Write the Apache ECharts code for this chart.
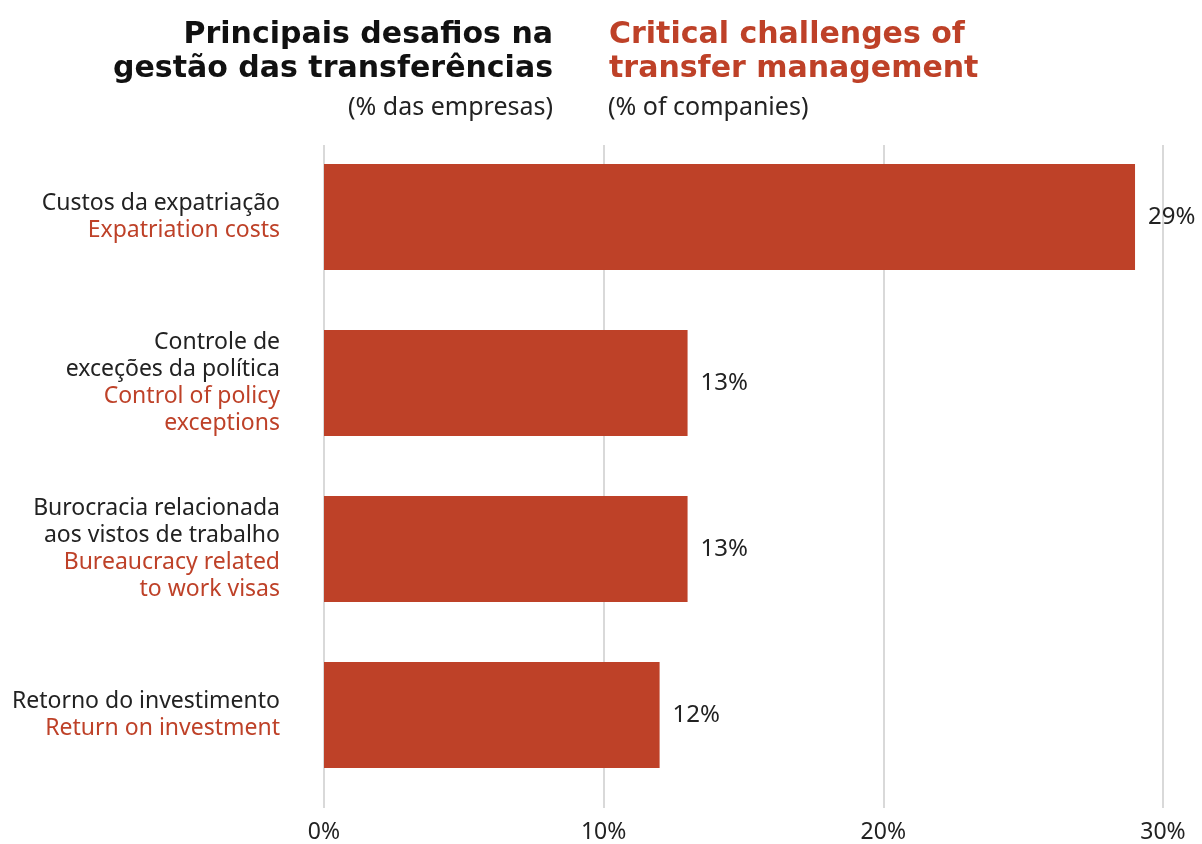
<!DOCTYPE html>
<html>
<head>
<meta charset="utf-8">
<script src="https://cdn.jsdelivr.net/npm/echarts@6/dist/echarts.min.js"></script>
<style>
  html, body { margin: 0; padding: 0; background: #fff; }
  #chart { width: 1202px; height: 844px; }
</style>
</head>
<body>
<div id="chart"></div>
<script>
// 类别（葡语 / 英语）
const categoriesPt = [
  "Custos da expatriação",
  "Controle de\nexceções da política",
  "Burocracia relacionada\naos vistos de trabalho",
  "Retorno do investimento"
];
const categoriesEn = [
  "Expatriation costs",
  "Control of policy\nexceptions",
  "Bureaucracy related\nto work visas",
  "Return on investment"
];
const values = [29, 13, 13, 12];
const tickLabels = ["0%", "10%", "20%", "30%"];

const red = "#BE4128";
const dark = "#222222";
const font = "Noto Sans";

var chart = echarts.init(document.getElementById("chart"));

// 每个类别的标签：黑色葡语 + 红色英语
const catLabels = categoriesPt.map(function (pt, i) {
  const ptLines = pt.split("\n").map(function (l) { return "{pt|" + l + "}"; });
  const enLines = categoriesEn[i].split("\n").map(function (l) { return "{en|" + l + "}"; });
  return ptLines.concat(enLines).join("\n");
});

const option = {
  backgroundColor: "#fff",
  animation: false,
  title: [
    {
      text: "Principais desafios na\ngestão das transferências",
      left: 548,
      top: 13,
      textAlign: "right",
      textStyle: {
        color: "#111",
        fontSize: 30,
        fontWeight: "bold",
        fontFamily: "DejaVu Sans",
        lineHeight: 34
      }
    },
    {
      text: "Critical challenges of\ntransfer management",
      left: 604,
      top: 13,
      textStyle: {
        color: red,
        fontSize: 30,
        fontWeight: "bold",
        fontFamily: "DejaVu Sans",
        lineHeight: 34
      }
    },
    {
      text: "(% das empresas)",
      right: 1202 - 558,
      top: 90,
      textStyle: { color: dark, fontSize: 25, fontWeight: "normal", fontFamily: font }
    },
    {
      text: "(% of companies)",
      left: 603,
      top: 90,
      textStyle: { color: dark, fontSize: 25, fontWeight: "normal", fontFamily: font }
    }
  ],
  grid: [
    // 网格线与刻度
    { left: 324, right: 1202 - 1163, top: 145, bottom: 844 - 808 },
    // 柱子
    { left: 324, right: 1202 - 1163, top: 134, bottom: 844 - 798 }
  ],
  xAxis: [
    {
      type: "value",
      gridIndex: 0,
      min: 0,
      max: 30,
      interval: 10,
      axisLine: { show: false },
      axisTick: { show: false },
      splitLine: { show: true, lineStyle: { color: "#cccccc", width: 1.5 } },
      axisLabel: {
        color: dark,
        fontSize: 23,
        fontFamily: font,
        margin: 13,
        formatter: function (v) { return tickLabels[v / 10]; }
      }
    },
    {
      type: "value",
      gridIndex: 1,
      min: 0,
      max: 30,
      show: false
    }
  ],
  yAxis: [
    {
      type: "category",
      gridIndex: 0,
      show: false,
      data: catLabels
    },
    {
      type: "category",
      gridIndex: 1,
      inverse: true,
      data: catLabels,
      axisLine: { show: false },
      axisTick: { show: false },
      axisLabel: {
        margin: 44,
        align: "right",
        rich: {
          pt: { color: dark, fontSize: 23, fontFamily: font, lineHeight: 27, align: "right" },
          en: { color: red, fontSize: 23, fontFamily: font, lineHeight: 27, align: "right" }
        }
      }
    }
  ],
  series: [
    {
      type: "bar",
      xAxisIndex: 1,
      yAxisIndex: 1,
      data: values,
      barWidth: 106,
      itemStyle: { color: red },
      label: {
        show: true,
        position: "right",
        distance: 13,
        color: dark,
        fontSize: 24,
        fontFamily: font,
        formatter: "{c}%"
      }
    }
  ]
};
chart.setOption(option);
</script>
</body>
</html>
